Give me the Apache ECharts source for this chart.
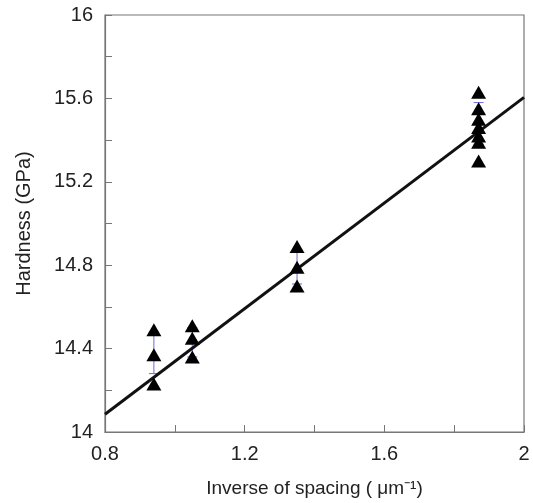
<!DOCTYPE html>
<html>
<head>
<meta charset="utf-8">
<script src="https://cdn.jsdelivr.net/npm/echarts@6/dist/echarts.min.js"></script>
<style>
html, body { margin: 0; padding: 0; background: #fff; }
#chart { width: 533px; height: 503px; }
</style>
</head>
<body>
<div id="chart"></div>
<script>
// measured points, one group per spacing
var spacingX = [0.94, 0.94, 0.94, 1.05, 1.05, 1.05, 1.35, 1.35, 1.35, 1.87, 1.87, 1.87, 1.87, 1.87, 1.87, 1.87];
var hardness = [14.49, 14.37, 14.23, 14.51, 14.45, 14.36, 14.89, 14.79, 14.70, 15.63, 15.55, 15.50, 15.46, 15.42, 15.39, 15.30];

// fitted line
var fitX = [0.8, 2.0];
var fitY = [14.085, 15.605];

// error bars (mean +/- sd)
var errX = [0.94, 1.05, 1.35, 1.87];
var errLow = [14.28, 14.36, 14.71, 15.38];
var errHigh = [14.48, 14.50, 14.87, 15.58];

var xTicks = [0.8, 1.2, 1.6, 2];
var yTicks = [14, 14.4, 14.8, 15.2, 15.6, 16];

var myChart = echarts.init(document.getElementById('chart'));

var points = [];
for (var i = 0; i < spacingX.length; i++) {
    points.push([spacingX[i], hardness[i]]);
}
var fit = [];
for (var i = 0; i < fitX.length; i++) {
    fit.push([fitX[i], fitY[i]]);
}
var errs = [];
for (var i = 0; i < errX.length; i++) {
    errs.push([errX[i], errLow[i], errHigh[i]]);
}

var font = 'Liberation Sans, Arial, sans-serif';
var axisCommon = {
    axisLine: { show: true, lineStyle: { color: '#777', width: 1.2 } },
    axisTick: { show: true, inside: true, length: 7, lineStyle: { color: '#777' } },
    minorTick: { show: true, splitNumber: 2, length: 7, lineStyle: { color: '#777' } },
    splitLine: { show: false },
    axisLabel: { color: '#222', fontSize: 20, fontFamily: font },
    nameTextStyle: { color: '#222', fontSize: 19, fontFamily: font }
};

var option = {
    backgroundColor: '#fff',
    animation: false,
    grid: { left: 105, right: 9, top: 15, bottom: 71, show: true, borderColor: '#777', borderWidth: 1.2 },
    xAxis: Object.assign({}, axisCommon, {
        type: 'value', min: 0.8, max: 2, interval: 0.4,
        name: 'Inverse of spacing ( \u03bcm\u207b\u00b9)',
        nameLocation: 'middle', nameGap: 47,
        axisLabel: Object.assign({}, axisCommon.axisLabel, {
            margin: 12,
            formatter: function (v) { return xTicks.indexOf(+v.toFixed(1)) >= 0 ? String(+v.toFixed(1)) : ''; }
        })
    }),
    yAxis: Object.assign({}, axisCommon, {
        type: 'value', min: 14, max: 16, interval: 0.4,
        name: 'Hardness (GPa)',
        nameLocation: 'middle', nameGap: 71,
        nameTextStyle: { color: '#222', fontSize: 20, fontFamily: font },
        axisLabel: Object.assign({}, axisCommon.axisLabel, {
            margin: 12,
            formatter: function (v) { return yTicks.indexOf(+v.toFixed(1)) >= 0 ? String(+v.toFixed(1)) : ''; }
        })
    }),
    series: [{
        type: 'custom',
        renderItem: function (params, api) {
            var x = api.value(0);
            var lo = api.coord([x, api.value(1)]);
            var hi = api.coord([x, api.value(2)]);
            var style = { stroke: '#6a6ad8', lineWidth: 1 };
            return {
                type: 'group',
                children: [
                    { type: 'line', shape: { x1: lo[0], y1: lo[1], x2: hi[0], y2: hi[1] }, style: style },
                    { type: 'line', shape: { x1: lo[0] - 5, y1: lo[1], x2: lo[0] + 5, y2: lo[1] }, style: style },
                    { type: 'line', shape: { x1: hi[0] - 5, y1: hi[1], x2: hi[0] + 5, y2: hi[1] }, style: style }
                ]
            };
        },
        data: errs,
        z: 1
    }, {
        type: 'line',
        data: fit,
        symbol: 'none',
        lineStyle: { color: '#111', width: 3 },
        z: 2
    }, {
        type: 'scatter',
        data: points,
        symbol: 'triangle',
        symbolSize: [15, 13],
        itemStyle: { color: '#000', opacity: 1 },
        z: 3
    }]
};

option && myChart.setOption(option);
</script>
</body>
</html>
